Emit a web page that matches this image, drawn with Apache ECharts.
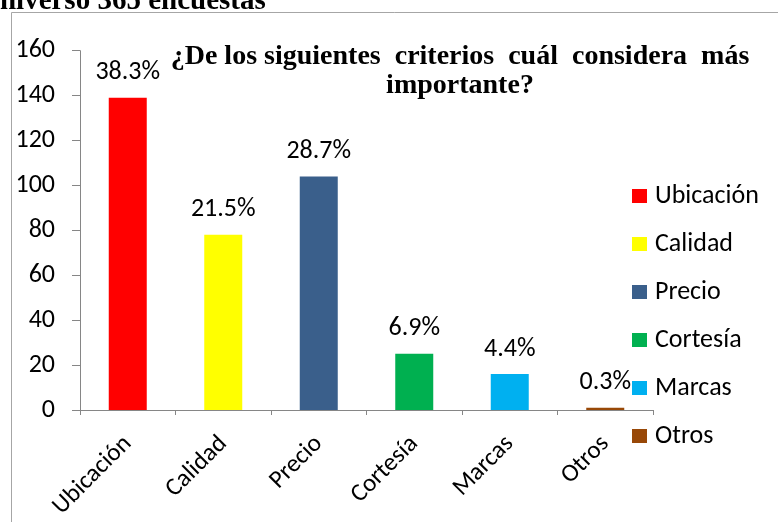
<!DOCTYPE html>
<html>
<head>
<meta charset="utf-8">
<script src="https://cdn.jsdelivr.net/npm/echarts@6/dist/echarts.min.js"></script>
<style>
html,body{margin:0;padding:0;background:#fff;}
#c{width:778px;height:522px;}
</style>
</head>
<body>
<div id="c"></div>
<script>
const categories = ['Ubicación', 'Calidad', 'Precio', 'Cortesía', 'Marcas', 'Otros'];
const counts = [139, 78, 104, 25, 16, 1];
const percents = ['38.3%', '21.5%', '28.7%', '6.9%', '4.4%', '0.3%'];
const colors = ['#FF0000', '#FFFF00', '#3A5F8B', '#00B050', '#00B0F0', '#984807'];
const yTicks = { min: 0, max: 160, interval: 20 };
const titleText = '¿De los siguientes  criterios  cuál  considera  más\nimportante?';
const topText = 'Universo 365 encuestas';

const font = 'Carlito, Lato, "Liberation Sans", sans-serif';
const serif = '"Liberation Serif", "Times New Roman", serif';
const chart = echarts.init(document.getElementById('c'), null, { renderer: 'canvas' });

const series = categories.map((name, i) => ({
  name: name,
  type: 'bar',
  stack: 'all',
  barWidth: 38,
  itemStyle: { color: colors[i] },
  data: categories.map((c, j) => (j === i ? counts[i] : null)),
  label: {
    show: true,
    position: 'top',
    distance: 12,
    fontFamily: font,
    fontSize: 26,
    color: '#000',
    formatter: () => percents[i]
  }
}));

chart.setOption({
  animation: false,
  backgroundColor: '#fff',
  title: {
    text: titleText,
    left: 460,
    textAlign: 'center',
    top: 42,
    padding: 0,
    textStyle: {
      fontFamily: serif,
      fontWeight: 'bold',
      fontSize: 28,
      lineHeight: 29,
      color: '#000'
    }
  },
  graphic: [
    {
      type: 'text',
      left: -21,
      top: -13,
      style: {
        text: topText,
        fontFamily: serif,
        fontWeight: 'bold',
        fontSize: 29,
        fill: '#000'
      }
    },
    {
      type: 'polyline',
      shape: { points: [[11.5, 522], [11.5, 12.5], [778, 12.5]] },
      style: { stroke: '#A6A6A6', lineWidth: 1, fill: null }
    }
  ],
  legend: {
    orient: 'vertical',
    left: 632,
    top: 183,
    padding: 0,
    itemWidth: 15,
    itemHeight: 14,
    itemGap: 22,
    itemStyle: { borderWidth: 0 },
    textStyle: { fontFamily: font, fontSize: 26, color: '#000', padding: [0, 0, 0, 3] },
    data: categories.map(c => ({ name: c, icon: 'rect' }))
  },
  grid: { left: 80, right: 125, top: 50.7, bottom: 112, containLabel: false },
  xAxis: {
    type: 'category',
    data: categories,
    axisLine: { lineStyle: { color: '#868686', width: 1 } },
    axisTick: { show: true, alignWithLabel: false, length: 5, lineStyle: { color: '#868686' } },
    axisLabel: {
      rotate: 45,
      interval: 0,
      margin: 30,
      fontFamily: font,
      fontSize: 25,
      color: '#000'
    }
  },
  yAxis: {
    type: 'value',
    min: yTicks.min,
    max: yTicks.max,
    interval: yTicks.interval,
    splitLine: { show: false },
    axisLine: { show: true, lineStyle: { color: '#868686', width: 1 } },
    axisTick: { show: true, length: 8, lineStyle: { color: '#868686' } },
    axisLabel: {
      margin: 25,
      fontFamily: font,
      fontSize: 26,
      color: '#000'
    }
  },
  series: series
});
</script>
</body>
</html>
